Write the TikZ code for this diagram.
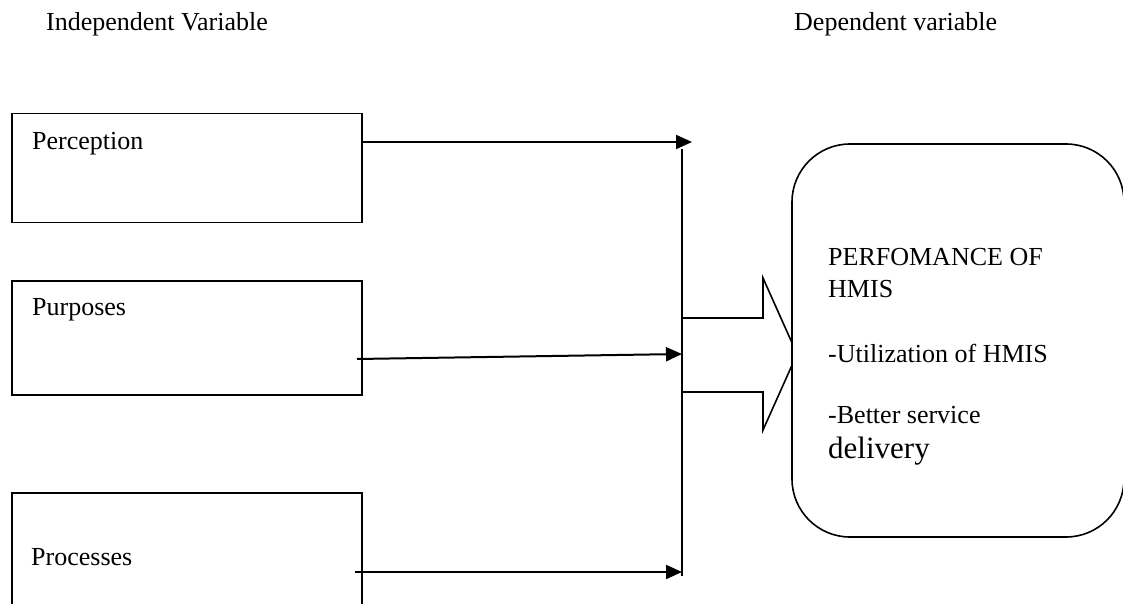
\documentclass[tikz,border=0pt]{standalone}
\usepackage{fontspec}
\setmainfont{Liberation Serif}
\usetikzlibrary{arrows.meta}
\begin{document}
\begin{tikzpicture}[x=1pt,y=-1pt,
  txt/.style={anchor=base west,inner sep=0pt,font=\fontsize{26}{31}\selectfont},
  bigtxt/.style={anchor=base west,inner sep=0pt,font=\fontsize{31}{36}\selectfont},
  box/.style={draw,line width=1.8pt,minimum width=350pt,inner sep=0pt},
  arr/.style={line width=2pt,-{Triangle[length=16pt,width=14pt]}},
  busline/.style={line width=1.8pt},
  blockarrow/.style={draw,line width=1.6pt,line join=miter},
  roundbox/.style={draw,fill=white,line width=1.6pt,rounded corners=58pt}]
\useasboundingbox (0,0) rectangle (1123,604);
% headings
\node[txt] (indep) at (46,31) {Independent Variable};
\node[txt] (dep) at (794,31) {Dependent variable};
% left boxes
\node[box,minimum height=109pt] (perc) at (187,168) {};
\node[txt] (percT) at (32,150) {Perception};
\node[box,minimum height=114pt] (purp) at (187,338) {};
\node[txt] (purpT) at (32,315) {Purposes};
\node[box,minimum height=130pt] (proc) at (187,558) {};
\node[txt] (procT) at (31,565) {Processes};
% bus and arrows
\coordinate (bus1) at (692,142);
\coordinate (busTop) at (682,149);
\coordinate (busBot) at (682,576);
\coordinate (bus2) at (682,354);
\coordinate (bus3) at (682,572);
\coordinate (pstart) at (357,359);
\coordinate (rstart) at (355,572);
\draw[busline] (busTop) -- (busBot);
\draw[arr] (perc.east |- bus1) -- (bus1);
\draw[arr] (pstart) -- (bus2);
\draw[arr] (rstart) -- (bus3);
% block arrow
\draw[blockarrow] (682,318) -- (763,318) -- (763,278) -- (797,354) -- (763,430) -- (763,392) -- (682,392);
% dependent box
\draw[roundbox] (792,144) rectangle (1124,537);
\node[draw=none,minimum width=332pt,minimum height=393pt] (perf) at (958,340.5) {};
\node[txt] (l1) at (828,265) {PERFOMANCE OF};
\node[txt] (l2) at (828,297) {HMIS};
\node[txt] (l3) at (828,362) {-Utilization of HMIS};
\node[txt] (l4) at (828,423) {-Better service};
\node[bigtxt] (l5) at (828,458) {delivery};
\end{tikzpicture}
\end{document}
